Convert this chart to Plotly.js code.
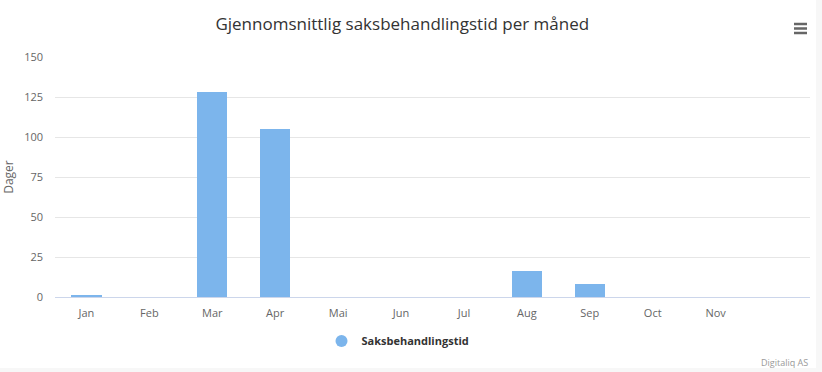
<!DOCTYPE html>
<html>
<head>
<meta charset="utf-8">
<script src="https://cdn.plot.ly/plotly-3.0.1.min.js"></script>
<style>
  html, body { margin: 0; padding: 0; background: #f7f7f7; }
  #chart { width: 816px; height: 368px; background: #ffffff; }
</style>
</head>
<body>
<div id="chart"></div>
<script>
const months = ["Jan", "Feb", "Mar", "Apr", "Mai", "Jun", "Jul", "Aug", "Sep", "Oct", "Nov"];
const values = [1, 0, 128, 105, 0, 0, 0, 16, 8, 0, 0];
const seriesName = "Saksbehandlingstid";
const chartTitle = "Gjennomsnittlig saksbehandlingstid per måned";
const yTitle = "Dager";
const yTicks = [0, 25, 50, 75, 100, 125, 150];
const credits = "Digitaliq AS";

const FONT = "'Open Sans', 'DejaVu Sans', sans-serif";
const barColor = "#7cb5ec";

const traces = [
  {
    type: "bar",
    x: months,
    y: values,
    width: 0.48,
    marker: { color: barColor, line: { width: 0 } },
    showlegend: false,
    hoverinfo: "x+y",
    name: seriesName
  },
  {
    type: "scatter",
    mode: "markers",
    x: [null],
    y: [null],
    name: seriesName,
    marker: { symbol: "circle", size: 11, color: barColor },
    showlegend: true
  }
];

const layout = {
  width: 816,
  height: 368,
  paper_bgcolor: "#ffffff",
  plot_bgcolor: "#ffffff",
  margin: { l: 55, r: 6, t: 57, b: 71, pad: 0 },
  font: { family: FONT, color: "#666666", size: 11 },
  title: {
    text: chartTitle,
    font: { family: FONT, size: 17, color: "#333333" },
    x: 0.493, xref: "container", xanchor: "center",
    y: 1 - 24 / 368, yref: "container", yanchor: "middle"
  },
  xaxis: {
    type: "category",
    range: [-0.5, 11.5],
    showgrid: false,
    zeroline: false,
    showline: true,
    linecolor: "#ccd6eb",
    linewidth: 1,
    ticks: "",
    ticklabelstandoff: 6,
    tickfont: { family: FONT, size: 11, color: "#666666" },
    fixedrange: true
  },
  yaxis: {
    range: [0, 150],
    tickvals: yTicks,
    ticktext: yTicks.map(String),
    showgrid: true,
    gridcolor: "#e6e6e6",
    gridwidth: 1,
    zeroline: false,
    showline: false,
    ticks: "",
    ticklabelstandoff: 11,
    tickfont: { family: FONT, size: 11, color: "#666666" },
    title: { text: yTitle, font: { family: FONT, size: 12, color: "#666666" }, standoff: 12 },
    fixedrange: true
  },
  bargap: 0,
  showlegend: true,
  legend: {
    orientation: "h",
    x: (398 - 55) / 755, xanchor: "center",
    y: (297 - 341) / 240, yanchor: "middle",
    font: { family: FONT, size: 11, color: "#333333", weight: "bold" },
    itemsizing: "constant",
    itemwidth: 30,
    bgcolor: "rgba(0,0,0,0)"
  },
  annotations: [
    {
      text: credits,
      xref: "paper", yref: "paper",
      x: 1, xanchor: "right",
      y: (297 - 362) / 240, yanchor: "middle",
      showarrow: false,
      font: { family: FONT, size: 9, color: "#999999" }
    }
  ],
  shapes: [0, 1, 2].map(i => ({
    type: "line",
    xref: "paper", yref: "paper",
    x0: (794 - 55) / 755, x1: (807 - 55) / 755,
    y0: (297 - (24 + 4.5 * i)) / 240, y1: (297 - (24 + 4.5 * i)) / 240,
    line: { color: "#666666", width: 2.5 }
  }))
};

Plotly.newPlot("chart", traces, layout, { displayModeBar: false, responsive: false });
</script>
</body>
</html>
